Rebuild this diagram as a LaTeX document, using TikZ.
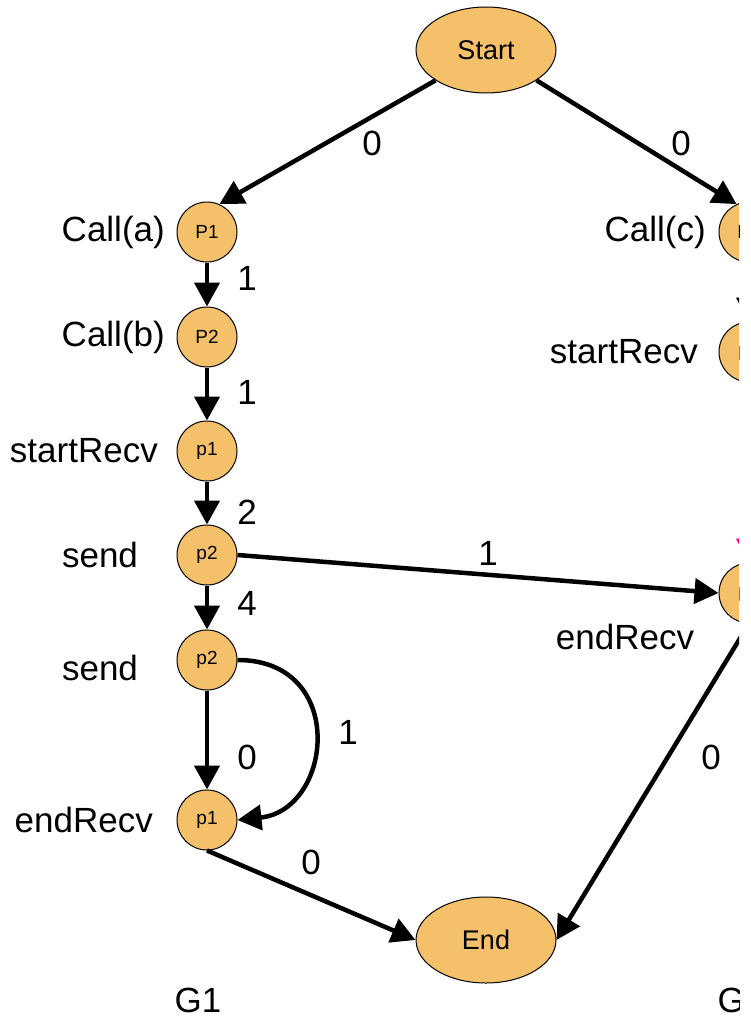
\documentclass[tikz,border=0pt]{standalone}
\usepackage{fontspec}
\setmainfont{Liberation Sans}
\usetikzlibrary{shapes.geometric,arrows.meta}
\definecolor{nodefill}{RGB}{245,192,106}
\tikzset{
  pnode/.style={circle,draw=black,line width=1pt,fill=nodefill,minimum size=60pt,inner sep=0pt,font=\fontsize{19}{22}\selectfont},
  enode/.style={ellipse,draw=black,line width=1pt,fill=nodefill,minimum width=140pt,minimum height=86pt,inner sep=0pt,font=\fontsize{27}{32}\selectfont},
  conn/.style={line width=4.5pt,-{Triangle[length=24pt,width=25pt]}},
  lbl/.style={inner sep=0pt,font=\fontsize{35}{42}\selectfont},
}
\begin{document}
\begin{tikzpicture}[x=1pt,y=-1pt]
\useasboundingbox (0,0) rectangle (751,1022);
\begin{scope}
\clip (0,0) rectangle (739,1022);
% nodes
\node[enode] (start) at (486,50) {Start};
\node[enode] (end) at (486,940) {End};
\node[pnode] (a1) at (207,232) {P1};
\node[pnode] (a2) at (207,337) {P2};
\node[pnode] (a3) at (207,451) {p1};
\node[pnode] (a4) at (207,555) {p2};
\node[pnode] (a5) at (207,660) {p2};
\node[pnode] (a6) at (207,820) {p1};
\node[pnode] (b1) at (749,232) {P1};
\node[pnode] (b2) at (749,352) {p1};
\node[pnode] (b3) at (749,593) {p2};
% side labels
\node[lbl,anchor=east] (la1) at (165,232) {Call(a)};
\node[lbl,anchor=east] (la2) at (165,337) {Call(b)};
\node[lbl,anchor=east] (la3) at (158,451) {startRecv};
\node[lbl] (la4) at (100,555) {send};
\node[lbl] (la5) at (100,668) {send};
\node[lbl,anchor=east] (la6) at (153,820) {endRecv};
\node[lbl,anchor=east] (lb1) at (706,232) {Call(c)};
\node[lbl,anchor=east] (lb2) at (698,352) {startRecv};
\node[lbl] (lb3) at (625,637) {endRecv};
\node[lbl] (g1) at (198,1000) {G1};
\node[lbl] (g2) at (741,1000) {G2};
% connectors
\draw[conn] (start.211) -- (a1.66);
\draw[conn] (start.329) -- (b1.114);
\draw[conn] (a1) -- (a2);
\draw[conn] (a2) -- (a3);
\draw[conn] (a3) -- (a4);
\draw[conn] (a4) -- (a5);
\draw[conn] (a5) -- (a6);
\draw[conn] (a4.east) -- (b3.west);
\draw[conn] (a5.east) .. controls (348,660) and (333,810) .. (a6.east);
\draw[conn] (a6.south) -- (end.west);
\draw[conn] (b3.south) -- (end.east);
\draw[conn] (b1) -- (b2);
\draw[conn,magenta] (b2) -- (b3);
% edge labels
\node[lbl] (e1) at (372,143) {0};
\node[lbl] (e2) at (681,143) {0};
\node[lbl] (e3) at (247,278) {1};
\node[lbl] (e4) at (247,392) {1};
\node[lbl] (e5) at (247,512) {2};
\node[lbl] (e6) at (247,603) {4};
\node[lbl] (e7) at (488,553) {1};
\node[lbl] (e8) at (348,732) {1};
\node[lbl] (e9) at (247,757) {0};
\node[lbl] (e10) at (311,862) {0};
\node[lbl] (e11) at (711,757) {0};
\end{scope}
\end{tikzpicture}
\end{document}
